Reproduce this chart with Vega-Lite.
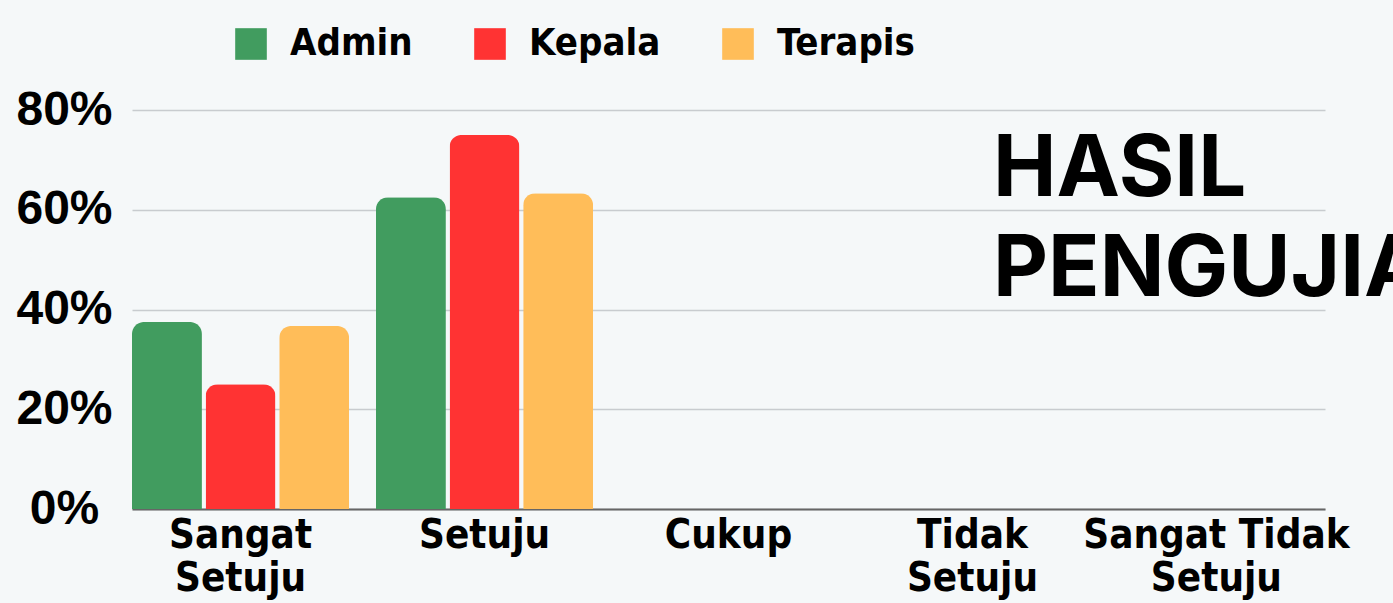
{
  "$schema": "https://vega.github.io/schema/vega-lite/v6.json",
  "width": 1193,
  "height": 399,
  "autosize": {"type": "none"},
  "padding": {"left": 132, "top": 110, "right": 68, "bottom": 94},
  "background": "#f5f8f9",
  "title": {
    "text": ["HASIL", "PENGUJIAN"],
    "anchor": "start",
    "frame": "group",
    "orient": "top",
    "font": "Inter",
    "fontSize": 85,
    "fontWeight": "bold",
    "lineHeight": 100,
    "color": "#000000",
    "dx": 861,
    "offset": -289,
    "baseline": "top"
  },
  "data": {
    "values": [
      {"kategori": "Sangat Setuju", "kelompok": "Admin", "persen": 37.5},
      {"kategori": "Sangat Setuju", "kelompok": "Kepala", "persen": 25},
      {"kategori": "Sangat Setuju", "kelompok": "Terapis", "persen": 36.7},
      {"kategori": "Setuju", "kelompok": "Admin", "persen": 62.5},
      {"kategori": "Setuju", "kelompok": "Kepala", "persen": 75},
      {"kategori": "Setuju", "kelompok": "Terapis", "persen": 63.3},
      {"kategori": "Cukup", "kelompok": "Admin", "persen": 0},
      {"kategori": "Cukup", "kelompok": "Kepala", "persen": 0},
      {"kategori": "Cukup", "kelompok": "Terapis", "persen": 0},
      {"kategori": "Tidak Setuju", "kelompok": "Admin", "persen": 0},
      {"kategori": "Tidak Setuju", "kelompok": "Kepala", "persen": 0},
      {"kategori": "Tidak Setuju", "kelompok": "Terapis", "persen": 0},
      {"kategori": "Sangat Tidak Setuju", "kelompok": "Admin", "persen": 0},
      {"kategori": "Sangat Tidak Setuju", "kelompok": "Kepala", "persen": 0},
      {"kategori": "Sangat Tidak Setuju", "kelompok": "Terapis", "persen": 0}
    ]
  },
  "mark": {"type": "bar", "cornerRadiusTopLeft": 12, "cornerRadiusTopRight": 12},
  "encoding": {
    "x": {
      "field": "kategori",
      "type": "nominal",
      "sort": ["Sangat Setuju", "Setuju", "Cukup", "Tidak Setuju", "Sangat Tidak Setuju"],
      "scale": {"paddingInner": 0.11, "paddingOuter": 0},
      "axis": {
        "title": null,
        "labelAngle": 0,
        "labelFont": "Liberation Sans Narrow, DejaVu Sans Condensed, sans-serif",
        "labelFontSize": 40,
        "labelFontWeight": "bold",
        "labelColor": "#000000",
        "labelLineHeight": 43,
        "labelPadding": 6,
        "labelBaseline": "top",
        "labelLimit": 400,
        "labelOverlap": false,
        "labelExpr": "datum.value == 'Sangat Setuju' ? ['Sangat', 'Setuju'] : datum.value == 'Tidak Setuju' ? ['Tidak', 'Setuju'] : datum.value == 'Sangat Tidak Setuju' ? ['Sangat Tidak', 'Setuju'] : datum.value",
        "ticks": false,
        "domainColor": "#666666",
        "domainWidth": 2,
        "grid": false
      }
    },
    "xOffset": {
      "field": "kelompok",
      "type": "nominal",
      "sort": ["Admin", "Kepala", "Terapis"],
      "scale": {"paddingInner": 0.05, "paddingOuter": 0}
    },
    "y": {
      "field": "persen",
      "type": "quantitative",
      "scale": {"domain": [0, 80], "nice": false},
      "axis": {
        "title": null,
        "values": [0, 20, 40, 60, 80],
        "labelExpr": "datum.value + '%'",
        "labelFont": "Liberation Sans, Arial, sans-serif",
        "labelFontSize": 48,
        "labelFontWeight": "bold",
        "labelColor": "#000000",
        "labelAlign": "center",
        "labelPadding": 68,
        "ticks": false,
        "domain": false,
        "gridColor": "#c8cccf",
        "gridWidth": 1.5
      }
    },
    "color": {
      "field": "kelompok",
      "type": "nominal",
      "sort": ["Admin", "Kepala", "Terapis"],
      "scale": {"domain": ["Admin", "Kepala", "Terapis"], "range": ["#419c5f", "#ff3333", "#ffbd59"]},
      "legend": {
        "title": null,
        "orient": "none",
        "direction": "horizontal",
        "legendX": 100,
        "legendY": -85,
        "symbolType": "square",
        "symbolSize": 1000,
        "symbolStrokeWidth": 0,
        "symbolOpacity": 1,
        "labelFont": "Liberation Sans Narrow, DejaVu Sans Condensed, sans-serif",
        "labelFontSize": 38,
        "labelFontWeight": "bold",
        "labelColor": "#000000",
        "labelOffset": 20,
        "columnPadding": 58,
        "labelLimit": 300
      }
    }
  },
  "config": {"view": {"stroke": null}}
}
